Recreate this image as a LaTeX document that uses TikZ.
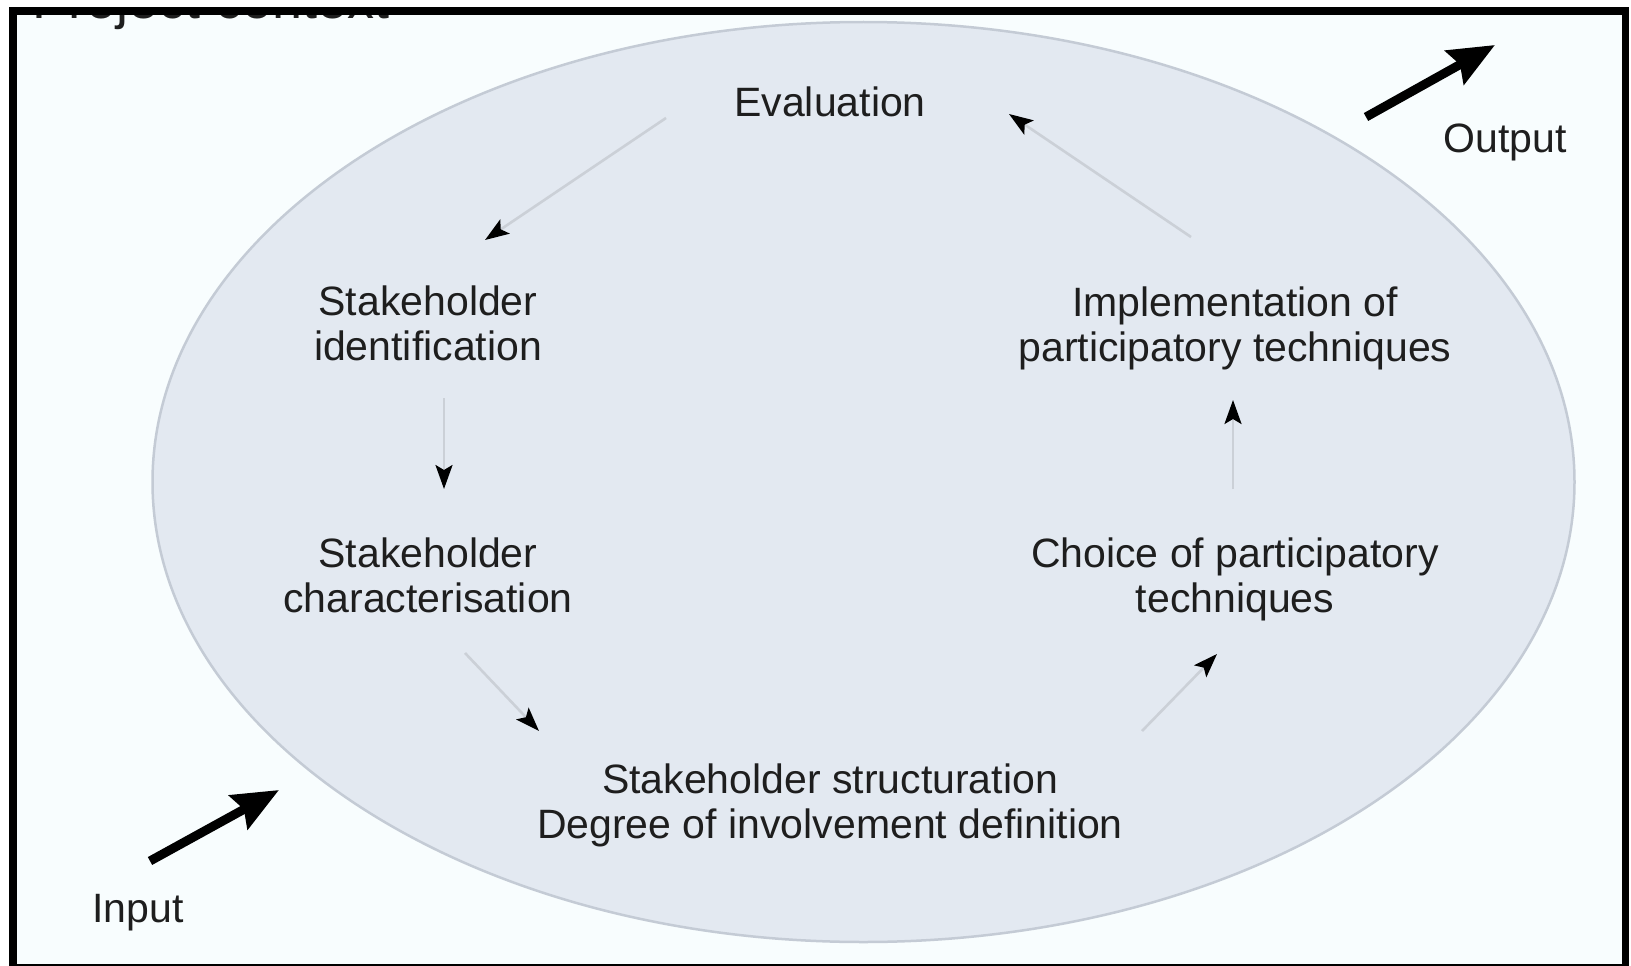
\documentclass[tikz,border=0pt]{standalone}
\usepackage{fontspec}
\setmainfont{Liberation Sans}
\usetikzlibrary{arrows.meta}
\definecolor{back1}{RGB}{248, 253, 254}
\definecolor{oval1}{RGB}{227, 233, 241}
\definecolor{rim1}{RGB}{196, 203, 213}
\definecolor{line1}{RGB}{203, 208, 215}
\definecolor{text1}{RGB}{30, 30, 30}

\begin{document}
\begin{tikzpicture}[x=1pt, y=-1pt,
  stage/.style={text=text1, align=center, inner sep=0pt, font=\fontsize{41}{45}\selectfont},
  flow/.style={line1, line width=2.6pt, -{Stealth[length=24pt, width=17pt, inset=5pt, color=black]}},
  bigarrow/.style={black, line width=9pt, -{Stealth[length=46pt, width=38pt, inset=6pt]}}]
  \useasboundingbox (0,0) rectangle (1631,966);
  \fill[back1] (17,15) rectangle (1622,964);

  % title, cut off by the frame
  \begin{scope}
    \clip (17,15) rectangle (1622,964);
    \node[stage, anchor=base west, font=\fontsize{54}{60}\selectfont] (title) at (32,19) {Project context};
  \end{scope}

  \draw[rim1, line width=2.5pt, fill=oval1] (863.5,482) ellipse [x radius=711pt, y radius=460pt];

  \node[stage, anchor=base] (eval) at (830,116.5) {Evaluation};
  \node[stage] (ident) at (428,323.5) {Stakeholder\\identification};
  \node[stage] (charact) at (428,575) {Stakeholder\\characterisation};
  \node[stage] (struct) at (830,805.5) {Stakeholder structuration\\Degree of involvement definition};
  \node[stage] (choice) at (1235,579.5) {Choice of participatory\\techniques};
  \node[stage] (impl) at (1235,328) {Implementation of\\participatory techniques};

  \node[stage, anchor=base] (outp) at (1505,152) {Output};
  \node[stage, anchor=base] (inp) at (138,922) {Input};

  \draw[flow] ([shift={(-164,1.5)}]eval.base) -- ([shift={(57,-83.5)}]ident.center);
  \draw[flow] ([shift={(16,74.5)}]ident.center) -- ([shift={(16,-86)}]charact.center);
  \draw[flow] ([shift={(37,78)}]charact.center) -- ([shift={(-291,-74.5)}]struct.center);
  \draw[flow] ([shift={(312,-74.5)}]struct.center) -- ([shift={(-18,74.5)}]choice.center);
  \draw[flow] ([shift={(-2,-90.5)}]choice.center) -- ([shift={(-2,72)}]impl.center);
  \draw[flow] ([shift={(-44,-91)}]impl.center) -- ([shift={(179,-2.5)}]eval.base);

  \coordinate (outtail) at (1366,117);
  \coordinate (outtip) at (1495,45);
  \coordinate (intail) at (150,861);
  \coordinate (intip) at (279,790);
  \draw[bigarrow] (outtail) -- (outtip);
  \draw[bigarrow] (intail) -- (intip);

  % frame
  \fill[black] (9,7) rectangle (17,966);
  \fill[black] (9,7) rectangle (1629,15);
  \fill[black] (1622,7) rectangle (1629,966);
  \fill[black] (9,963.5) rectangle (1629,966);
\end{tikzpicture}
\end{document}
